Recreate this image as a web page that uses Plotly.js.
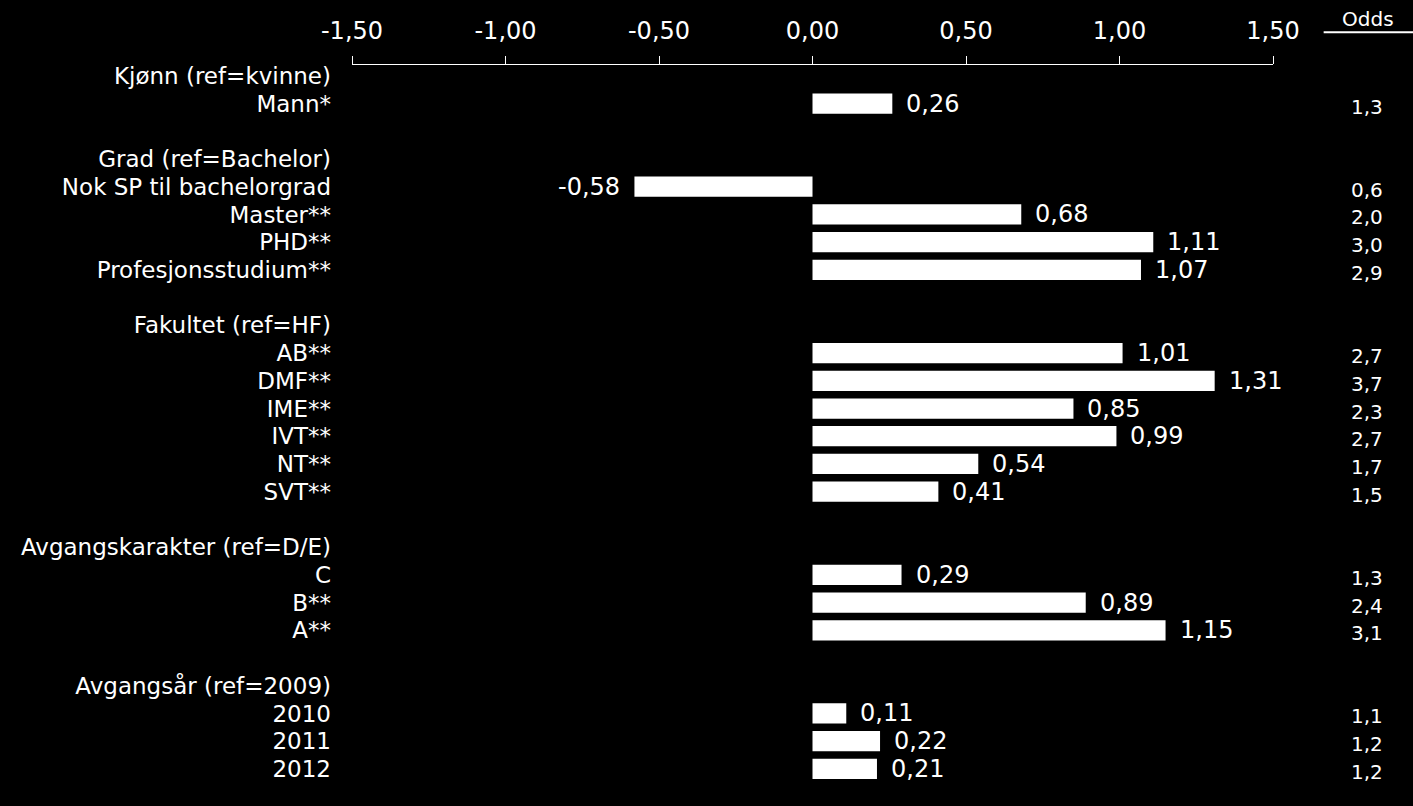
<!DOCTYPE html>
<html>
<head>
<meta charset="utf-8">
<script src="https://cdn.plot.ly/plotly-3.0.1.min.js"></script>
<style>
  html, body { margin: 0; padding: 0; background: #000; }
  #myDiv { width: 1413px; height: 806px; }
</style>
</head>
<body>
<div id="myDiv"></div>
<script>
// rows from top to bottom, headers and blank lines have no bar
var rowLabels = ["Kjønn (ref=kvinne)", "Mann*", "",
    "Grad (ref=Bachelor)", "Nok SP til bachelorgrad", "Master**", "PHD**", "Profesjonsstudium**", "",
    "Fakultet (ref=HF)", "AB**", "DMF**", "IME**", "IVT**", "NT**", "SVT**", "",
    "Avgangskarakter (ref=D/E)", "C", "B**", "A**", "",
    "Avgangsår (ref=2009)", "2010", "2011", "2012"];
var coefs = [null, 0.26, null,
    null, -0.58, 0.68, 1.11, 1.07, null,
    null, 1.01, 1.31, 0.85, 0.99, 0.54, 0.41, null,
    null, 0.29, 0.89, 1.15, null,
    null, 0.11, 0.22, 0.21];
var odds = [null, 1.3, null,
    null, 0.6, 2.0, 3.0, 2.9, null,
    null, 2.7, 3.7, 2.3, 2.7, 1.7, 1.5, null,
    null, 1.3, 2.4, 3.1, null,
    null, 1.1, 1.2, 1.2];
var xTicks = [-1.5, -1, -0.5, 0, 0.5, 1, 1.5];

function komma(v, d) {
    return v.toFixed(d).replace(".", ",");
}

var font = "DejaVu Sans, Verdana, sans-serif";
var rows = rowLabels.map(function (l, i) { return i; });

var trace0 = {
    type: 'bar',
    orientation: 'h',
    x: coefs,
    y: rows,
    width: 0.73,
    marker: { color: '#ffffff', line: { width: 0 } },
    hoverinfo: 'none'
};

var annotations = [];
for (var i = 0; i < rows.length; i++) {
    if (coefs[i] !== null) {
        var neg = coefs[i] < 0;
        annotations.push({
            x: coefs[i], y: rows[i], xref: 'x', yref: 'y',
            text: komma(coefs[i], 2),
            showarrow: false,
            xanchor: neg ? 'right' : 'left',
            xshift: neg ? -12 : 12,
            font: { family: font, size: 24, color: '#ffffff' }
        });
    }
    if (odds[i] !== null) {
        annotations.push({
            x: 1.122, y: rows[i], xref: 'paper', yref: 'y',
            text: komma(odds[i], 1),
            showarrow: false,
            xanchor: 'right',
            yshift: -3,
            font: { family: font, size: 20, color: '#ffffff' }
        });
    }
}
annotations.push({
    x: 1.103, y: 1, xref: 'paper', yref: 'paper',
    text: 'Odds', showarrow: false,
    xanchor: 'center', yanchor: 'middle', yshift: 46,
    font: { family: font, size: 20, color: '#ffffff' }
});

var layout = {
    width: 1413,
    height: 806,
    paper_bgcolor: '#000000',
    plot_bgcolor: '#000000',
    margin: { l: 352, r: 140, t: 65, b: 11 },
    showlegend: false,
    font: { family: font, color: '#ffffff' },
    xaxis: {
        side: 'top',
        range: [-1.5, 1.5],
        tickvals: xTicks,
        ticktext: xTicks.map(function (v) { return komma(v, 2); }),
        ticks: 'outside',
        ticklen: 8,
        tickcolor: '#ffffff',
        tickwidth: 1,
        ticklabelstandoff: 7,
        showline: true,
        linecolor: '#ffffff',
        linewidth: 1,
        showgrid: false,
        zeroline: false,
        tickfont: { family: font, size: 24, color: '#ffffff' }
    },
    yaxis: {
        range: [25.94, -0.39],
        tickvals: rows,
        ticktext: rowLabels,
        ticks: '',
        ticklabelstandoff: 20,
        showline: false,
        showgrid: false,
        zeroline: false,
        tickfont: { family: font, size: 23, color: '#ffffff' }
    },
    shapes: [{
        type: 'line', xref: 'paper', yref: 'paper',
        x0: 1.055, x1: 1.152, y0: 1.045, y1: 1.045,
        line: { color: '#ffffff', width: 2 }
    }],
    annotations: annotations
};

Plotly.newPlot('myDiv', [trace0], layout, { displayModeBar: false, staticPlot: true });
</script>
</body>
</html>
